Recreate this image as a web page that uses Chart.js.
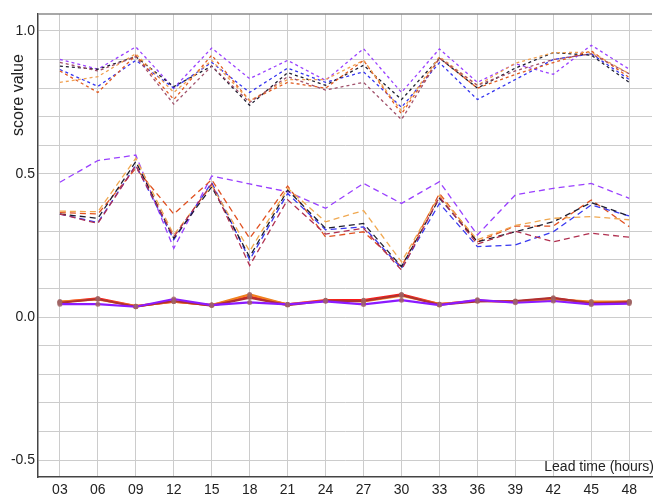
<!DOCTYPE html>
<html>
<head>
<meta charset="utf-8">
<script src="https://cdn.jsdelivr.net/npm/chart.js@4"></script>
<style>
  html, body { margin: 0; padding: 0; background: #fff; }
  #wrap { width: 656px; height: 500px; }
</style>
</head>
<body>
<div id="wrap"><canvas id="scoreChart" width="656" height="500"></canvas></div>
<script>
const leadTimes = ["03", "06", "09", "12", "15", "18", "21", "24", "27", "30", "33", "36", "39", "42", "45", "48"];
const yTickLabels = ["-0.5", "0.0", "0.5", "1.0"];

// upper group (short dashes)
const upperPurple = [0.90, 0.866, 0.944, 0.80, 0.94, 0.833, 0.897, 0.827, 0.938, 0.785, 0.937, 0.82, 0.885, 0.848, 0.95, 0.866];
const upperBlue   = [0.865, 0.806, 0.897, 0.80, 0.89, 0.785, 0.87, 0.82, 0.857, 0.733, 0.889, 0.76, 0.83, 0.90, 0.92, 0.83];
const upperBlack  = [0.877, 0.866, 0.91, 0.805, 0.877, 0.74, 0.854, 0.81, 0.88, 0.76, 0.905, 0.80, 0.87, 0.924, 0.915, 0.82];
const upperOrange = [0.82, 0.84, 0.92, 0.785, 0.897, 0.756, 0.83, 0.83, 0.897, 0.72, 0.91, 0.81, 0.887, 0.924, 0.925, 0.85];
const upperRed    = [0.86, 0.785, 0.915, 0.76, 0.915, 0.756, 0.82, 0.80, 0.897, 0.71, 0.905, 0.80, 0.848, 0.889, 0.93, 0.837];
const upperMauve  = [0.89, 0.86, 0.91, 0.744, 0.877, 0.75, 0.84, 0.793, 0.82, 0.69, 0.905, 0.81, 0.86, 0.90, 0.92, 0.85];

// middle group (long dashes)
const midPurple = [0.471, 0.547, 0.566, 0.24, 0.493, 0.465, 0.438, 0.38, 0.467, 0.397, 0.473, 0.287, 0.427, 0.45, 0.467, 0.415];
const midBlue   = [0.36, 0.33, 0.53, 0.27, 0.47, 0.20, 0.432, 0.305, 0.315, 0.17, 0.397, 0.246, 0.252, 0.298, 0.392, 0.353];
const midBlack  = [0.36, 0.345, 0.543, 0.275, 0.455, 0.21, 0.444, 0.31, 0.327, 0.176, 0.415, 0.263, 0.298, 0.333, 0.40, 0.353];
const midOrange = [0.37, 0.368, 0.555, 0.287, 0.46, 0.23, 0.45, 0.333, 0.372, 0.193, 0.425, 0.27, 0.32, 0.345, 0.351, 0.34];
const midRed    = [0.365, 0.36, 0.52, 0.36, 0.48, 0.275, 0.458, 0.28, 0.298, 0.176, 0.432, 0.263, 0.318, 0.318, 0.409, 0.316];
const midMauve  = [0.36, 0.327, 0.53, 0.28, 0.465, 0.18, 0.41, 0.29, 0.31, 0.164, 0.42, 0.255, 0.30, 0.263, 0.293, 0.279];

// bottom group (solid with markers)
const lowPurple  = [0.045, 0.045, 0.036, 0.063, 0.042, 0.051, 0.044, 0.055, 0.044, 0.059, 0.042, 0.06, 0.05, 0.056, 0.044, 0.047];
const lowDarkRed = [0.05, 0.063, 0.036, 0.056, 0.04, 0.068, 0.042, 0.057, 0.056, 0.077, 0.043, 0.055, 0.056, 0.067, 0.048, 0.052];
const lowOrange  = [0.054, 0.062, 0.038, 0.054, 0.042, 0.079, 0.044, 0.057, 0.055, 0.075, 0.045, 0.057, 0.054, 0.062, 0.054, 0.054];
const lowRed     = [0.052, 0.065, 0.038, 0.054, 0.042, 0.071, 0.044, 0.059, 0.059, 0.079, 0.045, 0.057, 0.054, 0.065, 0.05, 0.054];

const FONT = "'Liberation Sans', Arial, sans-serif";

function dashed(data, color, dash) {
  return {
    data: data,
    borderColor: color,
    borderWidth: 1.3,
    borderDash: dash,
    pointRadius: 0,
    fill: false,
    tension: 0,
  };
}

function solid(data, color) {
  return {
    data: data,
    borderColor: color,
    borderWidth: 2.2,
    pointRadius: 2.5,
    pointBorderWidth: 0,
    pointBackgroundColor: "rgba(160,100,100,0.85)",
    fill: false,
    tension: 0,
  };
}

const short = [3, 3];
const long = [6, 4];

// extra text + top frame line
const frameText = {
  id: "frameText",
  afterDraw(chart) {
    const { ctx, chartArea } = chart;
    ctx.save();
    ctx.strokeStyle = "#8a8a8a";
    ctx.lineWidth = 1.5;
    ctx.beginPath();
    ctx.moveTo(chartArea.left, chartArea.top);
    ctx.lineTo(chartArea.right, chartArea.top);
    ctx.stroke();

    ctx.fillStyle = "#222";
    ctx.font = "14px " + FONT;
    ctx.textAlign = "right";
    ctx.textBaseline = "middle";
    ctx.fillText("Lead time (hours)", 654, 467);

    ctx.translate(19, 95);
    ctx.rotate(-Math.PI / 2);
    ctx.font = "16px " + FONT;
    ctx.textAlign = "center";
    ctx.fillText("score value", 0, 0);
    ctx.restore();
  },
};

const ctx = document.getElementById("scoreChart");

new Chart(ctx, {
  type: "line",
  data: {
    labels: leadTimes,
    datasets: [
      dashed(upperMauve, "#a0506a", short),
      dashed(upperOrange, "#f0a050", short),
      dashed(upperRed, "#e05a20", short),
      dashed(upperBlack, "#1e1e30", short),
      dashed(upperBlue, "#3434f0", short),
      dashed(upperPurple, "#9a40ff", short),

      dashed(midMauve, "#b03050", long),
      dashed(midOrange, "#f0a850", long),
      dashed(midBlack, "#1e1e30", long),
      dashed(midBlue, "#3838f0", long),
      dashed(midRed, "#e05020", long),
      dashed(midPurple, "#9a40ff", long),

      solid(lowPurple, "#8c1aff"),
      solid(lowDarkRed, "#b03030"),
      solid(lowOrange, "#f08020"),
      solid(lowRed, "#ff1a1a"),
    ],
  },
  options: {
    responsive: false,
    animation: false,
    devicePixelRatio: 1,
    layout: { padding: { top: 14, right: 0, left: 0, bottom: 0 } },
    plugins: { legend: { display: false }, tooltip: { enabled: false } },
    scales: {
      x: {
        type: "linear",
        min: 1.27,
        max: 49.8,
        afterBuildTicks(scale) {
          scale.ticks = leadTimes.map((t) => ({ value: Number(t) }));
        },
        afterFit(scale) {
          scale.height = 23;
        },
        grid: { color: "#cccccc", lineWidth: 1, drawTicks: false },
        border: { display: true, color: "#444", width: 1.5 },
        ticks: {
          padding: 5,
          color: "#222",
          font: { family: FONT, size: 14 },
          maxRotation: 0,
          autoSkip: false,
          callback: (v, i) => leadTimes[i],
        },
      },
      y: {
        min: -0.559,
        max: 1.059,
        afterBuildTicks(scale) {
          const t = [];
          for (let k = -5; k <= 10; k++) t.push({ value: k / 10 });
          scale.ticks = t;
        },
        afterFit(scale) {
          scale.width = 38;
        },
        grid: { color: "#cccccc", lineWidth: 1, drawTicks: false },
        border: { display: true, color: "#444", width: 1.5 },
        ticks: {
          padding: 3,
          color: "#222",
          font: { family: FONT, size: 14 },
          autoSkip: false,
          callback: (v) => {
            const label = v.toFixed(1);
            return yTickLabels.includes(label) ? label : "";
          },
        },
      },
    },
  },
  plugins: [frameText],
});
</script>
</body>
</html>
